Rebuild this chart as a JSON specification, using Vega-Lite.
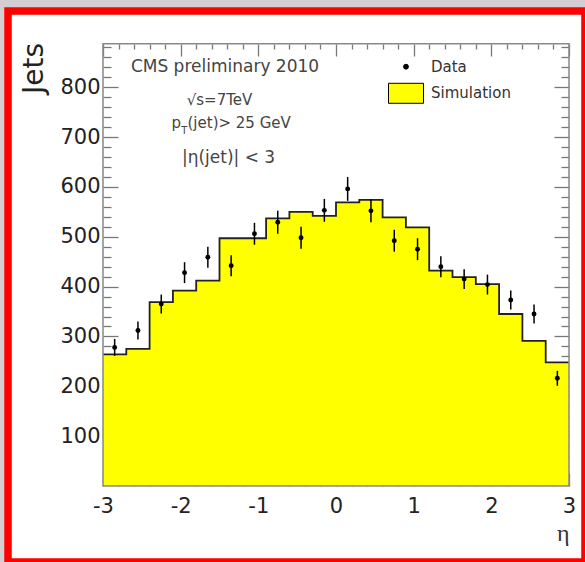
{
  "$schema": "https://vega.github.io/schema/vega-lite/v6.json",
  "width": 577,
  "height": 551,
  "autosize": {"type": "none"},
  "padding": {"left": 8, "top": 11, "right": 0, "bottom": 0},
  "background": "#d4ced2",
  "config": {
    "view": {"fill": "white", "stroke": "#ff0000", "strokeWidth": 7.5},
    "font": "DejaVu Sans",
    "axis": {"grid": false, "domain": false, "zindex": 1, "tickColor": "#777777", "tickWidth": 1.3, "labelFont": "DejaVu Sans", "labelFontSize": 21, "labelColor": "#222222"}
  },
  "datasets": {
    "sim": [
      {"edge": -3, "n": 264}, {"edge": -2.7, "n": 275}, {"edge": -2.4, "n": 369}, {"edge": -2.1, "n": 392},
      {"edge": -1.8, "n": 412}, {"edge": -1.5, "n": 497}, {"edge": -1.2, "n": 497}, {"edge": -0.9, "n": 537},
      {"edge": -0.6, "n": 550}, {"edge": -0.3, "n": 542}, {"edge": 0, "n": 569}, {"edge": 0.3, "n": 574},
      {"edge": 0.6, "n": 539}, {"edge": 0.9, "n": 519}, {"edge": 1.2, "n": 432}, {"edge": 1.5, "n": 419},
      {"edge": 1.8, "n": 405}, {"edge": 2.1, "n": 345}, {"edge": 2.4, "n": 291}, {"edge": 2.7, "n": 248},
      {"edge": 3, "n": 248}
    ],
    "meas": [
      {"eta": -2.85, "n": 278, "lo": 261, "hi": 295, "series": "Data"},
      {"eta": -2.55, "n": 312, "lo": 294, "hi": 330, "series": "Data"},
      {"eta": -2.25, "n": 365, "lo": 346, "hi": 384, "series": "Data"},
      {"eta": -1.95, "n": 428, "lo": 407, "hi": 449, "series": "Data"},
      {"eta": -1.65, "n": 459, "lo": 438, "hi": 480, "series": "Data"},
      {"eta": -1.35, "n": 442, "lo": 421, "hi": 463, "series": "Data"},
      {"eta": -1.05, "n": 506, "lo": 484, "hi": 528, "series": "Data"},
      {"eta": -0.75, "n": 529, "lo": 506, "hi": 552, "series": "Data"},
      {"eta": -0.45, "n": 498, "lo": 476, "hi": 520, "series": "Data"},
      {"eta": -0.15, "n": 553, "lo": 530, "hi": 576, "series": "Data"},
      {"eta": 0.15, "n": 596, "lo": 572, "hi": 620, "series": "Data"},
      {"eta": 0.45, "n": 552, "lo": 529, "hi": 575, "series": "Data"},
      {"eta": 0.75, "n": 492, "lo": 470, "hi": 514, "series": "Data"},
      {"eta": 1.05, "n": 475, "lo": 453, "hi": 497, "series": "Data"},
      {"eta": 1.35, "n": 440, "lo": 419, "hi": 461, "series": "Data"},
      {"eta": 1.65, "n": 415, "lo": 395, "hi": 435, "series": "Data"},
      {"eta": 1.95, "n": 404, "lo": 384, "hi": 424, "series": "Data"},
      {"eta": 2.25, "n": 373, "lo": 354, "hi": 392, "series": "Data"},
      {"eta": 2.55, "n": 345, "lo": 326, "hi": 364, "series": "Data"},
      {"eta": 2.85, "n": 216, "lo": 201, "hi": 231, "series": "Data"}
    ],
    "one": [{}]
  },
  "layer": [
    {
      "data": {"name": "sim"},
      "mark": {"type": "area", "interpolate": "step-after", "color": "#ffff00", "opacity": 1},
      "encoding": {
        "x": {"field": "edge", "type": "quantitative",
          "scale": {"domain": [-4.2232, 3.206], "nice": false, "zero": false},
          "axis": {"orient": "bottom", "offset": -76, "title": "η", "titleFont": "Liberation Serif", "titleFontSize": 24, "titleFontWeight": "normal", "titleColor": "#333333", "titleX": 561, "titleY": 54, "titleAlign": "right", "titleBaseline": "alphabetic",
            "values": [-3,-2.8,-2.6,-2.4,-2.2,-2,-1.8,-1.6,-1.4,-1.2,-1,-0.8,-0.6,-0.4,-0.2,0,0.2,0.4,0.6,0.8,1,1.2,1.4,1.6,1.8,2,2.2,2.4,2.6,2.8,3],
            "labelExpr": "abs(datum.value - round(datum.value)) < 0.001 ? '' + round(datum.value) : ''",
            "tickSize": {"condition": {"test": "abs(datum.value - round(datum.value)) < 0.001", "value": -13}, "value": -5},
            "labelPadding": 22, "labelFlush": false, "labelOverlap": false, "labelBaseline": "top"}},
        "y": {"field": "n", "type": "quantitative",
          "scale": {"domain": [-152.5, 952.9], "nice": false, "zero": false},
          "axis": {"orient": "left", "offset": -95, "title": "Jets", "titleFont": "DejaVu Sans", "titleFontSize": 28, "titleFontWeight": "normal", "titleColor": "#222222", "titleAngle": -90, "titleX": -69, "titleY": 57, "titleAlign": "center", "titleBaseline": "middle",
            "values": [20,40,60,80,100,120,140,160,180,200,220,240,260,280,300,320,340,360,380,400,420,440,460,480,500,520,540,560,580,600,620,640,660,680,700,720,740,760,780,800,820,840,860,880],
            "labelExpr": "datum.value % 100 === 0 ? '' + datum.value : ''",
            "tickSize": {"condition": {"test": "datum.value % 100 === 0", "value": -15}, "value": -8},
            "labelPadding": 18, "labelOverlap": false, "labelFlush": false}},
        "y2": {"datum": 0}
      }
    },
    {
      "data": {"name": "sim"},
      "mark": {"type": "line", "interpolate": "step-after", "color": "#222222", "strokeWidth": 1.8},
      "encoding": {
        "x": {"field": "edge", "type": "quantitative", "scale": {"domain": [-4.2232, 3.206], "nice": false, "zero": false}, "axis": null},
        "y": {"field": "n", "type": "quantitative", "scale": {"domain": [-152.5, 952.9], "nice": false, "zero": false}, "axis": null}
      }
    },
    {
      "data": {"name": "meas"},
      "mark": {"type": "rule", "color": "#000000", "strokeWidth": 1.5},
      "encoding": {
        "x": {"field": "eta", "type": "quantitative", "scale": {"domain": [-4.2232, 3.206], "nice": false, "zero": false}, "axis": null},
        "y": {"field": "lo", "type": "quantitative", "scale": {"domain": [-152.5, 952.9], "nice": false, "zero": false}, "axis": null},
        "y2": {"field": "hi"}
      }
    },
    {
      "data": {"name": "meas"},
      "mark": {"type": "point", "filled": true, "size": 24, "opacity": 1},
      "encoding": {
        "x": {"field": "eta", "type": "quantitative", "scale": {"domain": [-4.2232, 3.206], "nice": false, "zero": false}, "axis": null},
        "y": {"field": "n", "type": "quantitative", "scale": {"domain": [-152.5, 952.9], "nice": false, "zero": false}, "axis": null},
        "color": {"field": "series", "type": "nominal",
          "scale": {"domain": ["Data", "Simulation"], "range": ["#000000", "#ffff00"]},
          "legend": {"orient": "none", "legendX": 380, "legendY": 37.7, "title": null, "padding": 0,
            "labelFont": "DejaVu Sans", "labelFontSize": 15, "labelColor": "#333333",
            "symbolStrokeColor": "#000000", "symbolStrokeWidth": 1, "symbolSize": 1225, "symbolOpacity": 1,
            "labelOffset": 7, "rowPadding": 0.6,
            "encode": {"symbols": {"update": {"size": {"signal": "datum.value === 'Data' ? 24 : 1225"}}}}}},
        "shape": {"field": "series", "type": "nominal",
          "scale": {"domain": ["Data", "Simulation"], "range": ["circle", "M-1,-0.571H1V0.571H-1Z"]},
          "legend": {"orient": "none", "legendX": 380, "legendY": 37.7, "title": null, "padding": 0,
            "labelFont": "DejaVu Sans", "labelFontSize": 15, "labelColor": "#333333",
            "symbolStrokeColor": "#000000", "symbolStrokeWidth": 1, "symbolSize": 1225, "symbolOpacity": 1,
            "labelOffset": 7, "rowPadding": 0.6,
            "encode": {"symbols": {"update": {"size": {"signal": "datum.value === 'Data' ? 24 : 1225"}}}}}}
      }
    },
    {
      "data": {"name": "one"},
      "mark": {"type": "rect", "filled": false, "color": "#888888", "strokeWidth": 1.5},
      "encoding": {
        "x": {"datum": -3, "type": "quantitative", "scale": {"domain": [-4.2232, 3.206], "nice": false, "zero": false},
          "axis": {"orient": "top", "offset": -33, "title": null, "labels": false,
            "values": [-3,-2.8,-2.6,-2.4,-2.2,-2,-1.8,-1.6,-1.4,-1.2,-1,-0.8,-0.6,-0.4,-0.2,0,0.2,0.4,0.6,0.8,1,1.2,1.4,1.6,1.8,2,2.2,2.4,2.6,2.8,3],
            "tickSize": {"condition": {"test": "abs(datum.value - round(datum.value)) < 0.001", "value": -12}, "value": -5}}},
        "x2": {"datum": 3},
        "y": {"datum": 0, "type": "quantitative", "scale": {"domain": [-152.5, 952.9], "nice": false, "zero": false},
          "axis": {"orient": "right", "offset": -16, "title": null, "labels": false,
            "values": [20,40,60,80,100,120,140,160,180,200,220,240,260,280,300,320,340,360,380,400,420,440,460,480,500,520,540,560,580,600,620,640,660,680,700,720,740,760,780,800,820,840,860,880],
            "tickSize": {"condition": {"test": "datum.value % 100 === 0", "value": -15}, "value": -8}}},
        "y2": {"datum": 887}
      }
    },
    {
      "data": {"name": "one"},
      "mark": {"type": "text", "text": "CMS preliminary 2010", "font": "DejaVu Sans", "fontSize": 17, "color": "#444444", "align": "center", "baseline": "middle"},
      "encoding": {
        "x": {"datum": -1.429, "type": "quantitative", "scale": {"domain": [-4.2232, 3.206], "nice": false, "zero": false}, "axis": null},
        "y": {"datum": 841.5, "type": "quantitative", "scale": {"domain": [-152.5, 952.9], "nice": false, "zero": false}, "axis": null}
      }
    },
    {
      "data": {"name": "one"},
      "mark": {"type": "text", "text": "√s=7TeV", "font": "DejaVu Sans", "fontSize": 15, "color": "#444444", "align": "center", "baseline": "middle"},
      "encoding": {
        "x": {"datum": -1.5, "type": "quantitative", "scale": {"domain": [-4.2232, 3.206], "nice": false, "zero": false}, "axis": null},
        "y": {"datum": 774.3, "type": "quantitative", "scale": {"domain": [-152.5, 952.9], "nice": false, "zero": false}, "axis": null}
      }
    },
    {
      "data": {"name": "one"},
      "mark": {"type": "text", "text": "p", "font": "DejaVu Sans", "fontSize": 15, "color": "#444444", "align": "left", "baseline": "middle"},
      "encoding": {
        "x": {"datum": -2.118, "type": "quantitative", "scale": {"domain": [-4.2232, 3.206], "nice": false, "zero": false}, "axis": null},
        "y": {"datum": 728.2, "type": "quantitative", "scale": {"domain": [-152.5, 952.9], "nice": false, "zero": false}, "axis": null}
      }
    },
    {
      "data": {"name": "one"},
      "mark": {"type": "text", "text": "T", "font": "DejaVu Sans", "fontSize": 10, "color": "#444444", "align": "left", "baseline": "middle"},
      "encoding": {
        "x": {"datum": -1.994, "type": "quantitative", "scale": {"domain": [-4.2232, 3.206], "nice": false, "zero": false}, "axis": null},
        "y": {"datum": 712, "type": "quantitative", "scale": {"domain": [-152.5, 952.9], "nice": false, "zero": false}, "axis": null}
      }
    },
    {
      "data": {"name": "one"},
      "mark": {"type": "text", "text": "(jet)> 25 GeV", "font": "DejaVu Sans", "fontSize": 15, "color": "#444444", "align": "left", "baseline": "middle"},
      "encoding": {
        "x": {"datum": -1.912, "type": "quantitative", "scale": {"domain": [-4.2232, 3.206], "nice": false, "zero": false}, "axis": null},
        "y": {"datum": 728.2, "type": "quantitative", "scale": {"domain": [-152.5, 952.9], "nice": false, "zero": false}, "axis": null}
      }
    },
    {
      "data": {"name": "one"},
      "mark": {"type": "text", "text": "|η(jet)| < 3", "font": "DejaVu Sans", "fontSize": 17, "color": "#444444", "align": "center", "baseline": "middle"},
      "encoding": {
        "x": {"datum": -1.384, "type": "quantitative", "scale": {"domain": [-4.2232, 3.206], "nice": false, "zero": false}, "axis": null},
        "y": {"datum": 657.4, "type": "quantitative", "scale": {"domain": [-152.5, 952.9], "nice": false, "zero": false}, "axis": null}
      }
    }
  ],
  "resolve": {"axis": {"x": "independent", "y": "independent"}}
}
